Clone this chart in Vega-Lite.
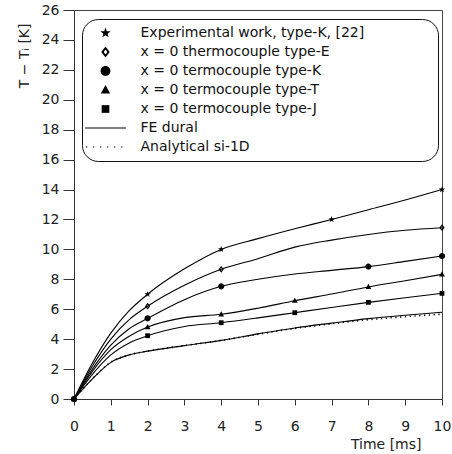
{
  "$schema": "https://vega.github.io/schema/vega-lite/v6.json",
  "width": 368,
  "height": 389,
  "autosize": {"type": "none"},
  "padding": {"left": 74, "top": 10, "right": 10, "bottom": 55},
  "background": "white",
  "config": {
    "font": "DejaVu Sans",
    "view": {"stroke": "#444", "strokeWidth": 1}
  },
  "data": {
    "values": [
      {"s": "Experimental work, type-K, [22]", "t": 0, "v": 0, "m": 1},
      {"s": "Experimental work, type-K, [22]", "t": 0.5, "v": 2.4, "m": 0},
      {"s": "Experimental work, type-K, [22]", "t": 1, "v": 4.4, "m": 0},
      {"s": "Experimental work, type-K, [22]", "t": 1.5, "v": 5.9, "m": 0},
      {"s": "Experimental work, type-K, [22]", "t": 2, "v": 7.0, "m": 1},
      {"s": "Experimental work, type-K, [22]", "t": 3, "v": 8.7, "m": 0},
      {"s": "Experimental work, type-K, [22]", "t": 4, "v": 10.0, "m": 1},
      {"s": "Experimental work, type-K, [22]", "t": 5, "v": 10.72, "m": 0},
      {"s": "Experimental work, type-K, [22]", "t": 6, "v": 11.38, "m": 0},
      {"s": "Experimental work, type-K, [22]", "t": 7, "v": 12.0, "m": 1},
      {"s": "Experimental work, type-K, [22]", "t": 8, "v": 12.65, "m": 0},
      {"s": "Experimental work, type-K, [22]", "t": 9, "v": 13.3, "m": 0},
      {"s": "Experimental work, type-K, [22]", "t": 10, "v": 14.0, "m": 1},
      {"s": "x = 0 thermocouple type-E", "t": 0, "v": 0, "m": 1},
      {"s": "x = 0 thermocouple type-E", "t": 0.5, "v": 2.2, "m": 0},
      {"s": "x = 0 thermocouple type-E", "t": 1, "v": 4.0, "m": 0},
      {"s": "x = 0 thermocouple type-E", "t": 1.5, "v": 5.3, "m": 0},
      {"s": "x = 0 thermocouple type-E", "t": 2, "v": 6.2, "m": 1},
      {"s": "x = 0 thermocouple type-E", "t": 3, "v": 7.6, "m": 0},
      {"s": "x = 0 thermocouple type-E", "t": 4, "v": 8.67, "m": 1},
      {"s": "x = 0 thermocouple type-E", "t": 5, "v": 9.38, "m": 0},
      {"s": "x = 0 thermocouple type-E", "t": 6, "v": 10.15, "m": 0},
      {"s": "x = 0 thermocouple type-E", "t": 7, "v": 10.62, "m": 0},
      {"s": "x = 0 thermocouple type-E", "t": 8, "v": 11.0, "m": 0},
      {"s": "x = 0 thermocouple type-E", "t": 9, "v": 11.28, "m": 0},
      {"s": "x = 0 thermocouple type-E", "t": 10, "v": 11.45, "m": 1},
      {"s": "x = 0 termocouple type-K", "t": 0, "v": 0, "m": 1},
      {"s": "x = 0 termocouple type-K", "t": 0.5, "v": 2.0, "m": 0},
      {"s": "x = 0 termocouple type-K", "t": 1, "v": 3.6, "m": 0},
      {"s": "x = 0 termocouple type-K", "t": 1.5, "v": 4.7, "m": 0},
      {"s": "x = 0 termocouple type-K", "t": 2, "v": 5.39, "m": 1},
      {"s": "x = 0 termocouple type-K", "t": 3, "v": 6.64, "m": 0},
      {"s": "x = 0 termocouple type-K", "t": 4, "v": 7.53, "m": 1},
      {"s": "x = 0 termocouple type-K", "t": 5, "v": 8.0, "m": 0},
      {"s": "x = 0 termocouple type-K", "t": 6, "v": 8.35, "m": 0},
      {"s": "x = 0 termocouple type-K", "t": 7, "v": 8.6, "m": 0},
      {"s": "x = 0 termocouple type-K", "t": 8, "v": 8.85, "m": 1},
      {"s": "x = 0 termocouple type-K", "t": 9, "v": 9.2, "m": 0},
      {"s": "x = 0 termocouple type-K", "t": 10, "v": 9.56, "m": 1},
      {"s": "x = 0 termocouple type-T", "t": 0, "v": 0, "m": 1},
      {"s": "x = 0 termocouple type-T", "t": 0.5, "v": 1.85, "m": 0},
      {"s": "x = 0 termocouple type-T", "t": 1, "v": 3.3, "m": 0},
      {"s": "x = 0 termocouple type-T", "t": 1.5, "v": 4.2, "m": 0},
      {"s": "x = 0 termocouple type-T", "t": 2, "v": 4.81, "m": 1},
      {"s": "x = 0 termocouple type-T", "t": 3, "v": 5.44, "m": 0},
      {"s": "x = 0 termocouple type-T", "t": 4, "v": 5.66, "m": 1},
      {"s": "x = 0 termocouple type-T", "t": 5, "v": 6.07, "m": 0},
      {"s": "x = 0 termocouple type-T", "t": 6, "v": 6.57, "m": 1},
      {"s": "x = 0 termocouple type-T", "t": 7, "v": 7.02, "m": 0},
      {"s": "x = 0 termocouple type-T", "t": 8, "v": 7.49, "m": 1},
      {"s": "x = 0 termocouple type-T", "t": 9, "v": 7.9, "m": 0},
      {"s": "x = 0 termocouple type-T", "t": 10, "v": 8.33, "m": 1},
      {"s": "x = 0 termocouple type-J", "t": 0, "v": 0, "m": 1},
      {"s": "x = 0 termocouple type-J", "t": 0.5, "v": 1.65, "m": 0},
      {"s": "x = 0 termocouple type-J", "t": 1, "v": 2.95, "m": 0},
      {"s": "x = 0 termocouple type-J", "t": 1.5, "v": 3.75, "m": 0},
      {"s": "x = 0 termocouple type-J", "t": 2, "v": 4.23, "m": 1},
      {"s": "x = 0 termocouple type-J", "t": 3, "v": 4.85, "m": 0},
      {"s": "x = 0 termocouple type-J", "t": 4, "v": 5.1, "m": 1},
      {"s": "x = 0 termocouple type-J", "t": 5, "v": 5.42, "m": 0},
      {"s": "x = 0 termocouple type-J", "t": 6, "v": 5.77, "m": 1},
      {"s": "x = 0 termocouple type-J", "t": 7, "v": 6.12, "m": 0},
      {"s": "x = 0 termocouple type-J", "t": 8, "v": 6.46, "m": 1},
      {"s": "x = 0 termocouple type-J", "t": 9, "v": 6.77, "m": 0},
      {"s": "x = 0 termocouple type-J", "t": 10, "v": 7.06, "m": 1},
      {"s": "FE dural", "t": 0, "v": 0, "m": 0},
      {"s": "FE dural", "t": 0.5, "v": 1.35, "m": 0},
      {"s": "FE dural", "t": 1, "v": 2.45, "m": 0},
      {"s": "FE dural", "t": 1.5, "v": 2.95, "m": 0},
      {"s": "FE dural", "t": 2, "v": 3.2, "m": 0},
      {"s": "FE dural", "t": 3, "v": 3.57, "m": 0},
      {"s": "FE dural", "t": 4, "v": 3.92, "m": 0},
      {"s": "FE dural", "t": 5, "v": 4.35, "m": 0},
      {"s": "FE dural", "t": 6, "v": 4.75, "m": 0},
      {"s": "FE dural", "t": 7, "v": 5.07, "m": 0},
      {"s": "FE dural", "t": 8, "v": 5.37, "m": 0},
      {"s": "FE dural", "t": 9, "v": 5.6, "m": 0},
      {"s": "FE dural", "t": 10, "v": 5.8, "m": 0},
      {"s": "Analytical si-1D", "t": 0, "v": 0, "m": 0},
      {"s": "Analytical si-1D", "t": 0.5, "v": 1.35, "m": 0},
      {"s": "Analytical si-1D", "t": 1, "v": 2.45, "m": 0},
      {"s": "Analytical si-1D", "t": 1.5, "v": 2.95, "m": 0},
      {"s": "Analytical si-1D", "t": 2, "v": 3.2, "m": 0},
      {"s": "Analytical si-1D", "t": 3, "v": 3.57, "m": 0},
      {"s": "Analytical si-1D", "t": 4, "v": 3.92, "m": 0},
      {"s": "Analytical si-1D", "t": 5, "v": 4.33, "m": 0},
      {"s": "Analytical si-1D", "t": 6, "v": 4.72, "m": 0},
      {"s": "Analytical si-1D", "t": 7, "v": 5.03, "m": 0},
      {"s": "Analytical si-1D", "t": 8, "v": 5.3, "m": 0},
      {"s": "Analytical si-1D", "t": 9, "v": 5.5, "m": 0},
      {"s": "Analytical si-1D", "t": 10, "v": 5.67, "m": 0}
    ]
  },
  "encoding": {
    "x": {
      "field": "t", "type": "quantitative",
      "scale": {"domain": [0, 10], "nice": false},
      "axis": {
        "title": "Time [ms]", "values": [0,1,2,3,4,5,6,7,8,9,10], "grid": false,
        "tickSize": 6, "labelPadding": 14, "labelFontSize": 14, "labelColor": "#222",
        "domainColor": "#333", "tickColor": "#333", "labelFlush": false,
        "titleFontSize": 14, "titleFontWeight": "normal", "titleColor": "#222",
        "titleAnchor": "end", "titleAlign": "right", "titleX": 347, "titleY": 49, "titleBaseline": "alphabetic"
      }
    },
    "y": {
      "field": "v", "type": "quantitative",
      "scale": {"domain": [0, 26], "nice": false},
      "axis": {
        "title": "T − Tᵢ [K]", "values": [0,2,4,6,8,10,12,14,16,18,20,22,24,26], "grid": false,
        "tickSize": 11, "labelPadding": 4, "labelFontSize": 14, "labelColor": "#222",
        "domainColor": "#333", "tickColor": "#333",
        "titleFontSize": 14, "titleFontWeight": "normal", "titleColor": "#222",
        "titleAlign": "right", "titleX": -46, "titleY": 13, "titleBaseline": "alphabetic"
      }
    }
  },
  "layer": [
    {
      "transform": [{"filter": "datum.s != 'Analytical si-1D'"}],
      "mark": {"type": "line", "interpolate": "monotone", "color": "black", "strokeWidth": 1.1},
      "encoding": {"detail": {"field": "s"}}
    },
    {
      "transform": [{"filter": "datum.s == 'Analytical si-1D'"}],
      "mark": {"type": "line", "interpolate": "monotone", "color": "black", "strokeWidth": 1.6, "strokeDash": [1.2, 3.6]},
      "encoding": {}
    },
    {
      "transform": [{"filter": "datum.m == 1"}],
      "mark": {"type": "point", "filled": true, "color": "black", "opacity": 1, "size": 56},
      "encoding": {
        "shape": {
          "field": "s", "type": "nominal",
          "scale": {
            "domain": ["Experimental work, type-K, [22]", "x = 0 thermocouple type-E", "x = 0 termocouple type-K", "x = 0 termocouple type-T", "x = 0 termocouple type-J", "FE dural", "Analytical si-1D"],
            "range": [
              "M0,-0.9L0.212,-0.291L0.856,-0.278L0.342,0.111L0.529,0.728L0,0.36L-0.529,0.728L-0.342,0.111L-0.856,-0.278L-0.212,-0.291Z",
              "M0,-0.9L0.7,0L0,0.9L-0.7,0ZM0,-0.4L-0.3,0L0,0.4L0.3,0Z",
              "M-0.82,0A0.82,0.82,0,1,0,0.82,0A0.82,0.82,0,1,0,-0.82,0Z",
              "M0,-0.82L0.78,0.58L-0.78,0.58Z",
              "M-0.64,-0.64H0.64V0.64H-0.64Z",
              "M-3.4,-0.1H3.4V0.1H-3.4Z",
              "M-3.25,-0.1h0.22v0.2h-0.22ZM-2.08,-0.1h0.22v0.2h-0.22ZM-0.91,-0.1h0.22v0.2h-0.22ZM0.26,-0.1h0.22v0.2h-0.22ZM1.43,-0.1h0.22v0.2h-0.22ZM2.6,-0.1h0.22v0.2h-0.22Z"
            ]
          },
          "legend": {
            "title": null, "orient": "none", "legendX": 8, "legendY": 9,
            "fillColor": "white", "strokeColor": "#111", "cornerRadius": 16, "padding": 7,
            "symbolSize": 144, "symbolFillColor": "black",
            "symbolStrokeWidth": 0, "symbolOpacity": 1, "symbolOffset": 9.5,
            "labelFontSize": 14, "labelColor": "#111", "labelLimit": 500, "labelOffset": 28,
            "rowPadding": 5,
            "labelExpr": "datum.label == 'Experimental work, type-K, [22]' ? datum.label + '               \u200b' : datum.label"
          }
        }
      }
    }
  ]
}
